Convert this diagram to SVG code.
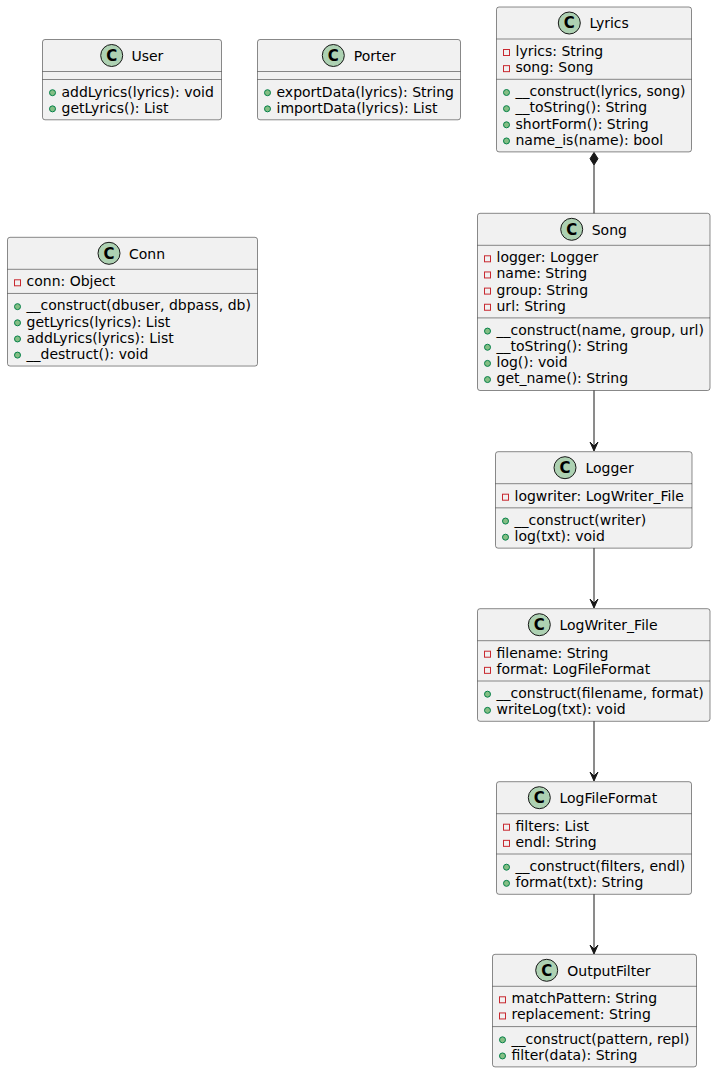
<svg xmlns="http://www.w3.org/2000/svg" width="716" height="1073" viewBox="0 0 716 1073">
<defs>
<style>
.box{fill:#F1F1F1;stroke:#181818;stroke-width:0.5}
.sep{stroke:#181818;stroke-width:0.5}
.ci{fill:#ADD1B2;stroke:#181818;stroke-width:1}
.cl{font-family:"DejaVu Sans",sans-serif;font-size:15px;font-weight:bold;fill:#000;text-anchor:middle}
.nm{font-family:"DejaVu Sans",sans-serif;font-size:14px;fill:#000}
.mb{font-family:"DejaVu Sans",sans-serif;font-size:14px;fill:#000}
.pv{fill:none;stroke:#C82930;stroke-width:1}
.pb{fill:#84BE84;stroke:#038048;stroke-width:1}
.edge{stroke:#181818;stroke-width:1;fill:none}
.head{fill:#181818;stroke:#181818;stroke-width:1}
</style>
</defs>
<rect width="716" height="1073" fill="#FFFFFF"/>

<g id="User">
<rect class="box" x="42.5" y="39.5" width="179" height="80.3" rx="2.5"/>
<circle class="ci" cx="111.7" cy="55.5" r="11"/>
<text class="cl" x="111.7" y="60.8">C</text>
<text class="nm" x="131.4" y="60.8">User</text>
<line class="sep" x1="42.5" y1="71.5" x2="221.5" y2="71.5"/>
<line class="sep" x1="42.5" y1="79.5" x2="221.5" y2="79.5"/>
<circle class="pb" cx="52.5" cy="92.7" r="3"/>
<text class="mb" x="61.5" y="96.5">addLyrics(lyrics): void</text>
<circle class="pb" cx="52.5" cy="108.85" r="3"/>
<text class="mb" x="61.5" y="112.65">getLyrics(): List</text>
</g>

<g id="Porter">
<rect class="box" x="257.5" y="39.5" width="203" height="80.3" rx="2.5"/>
<circle class="ci" cx="333.3" cy="55.5" r="11"/>
<text class="cl" x="333.3" y="60.8">C</text>
<text class="nm" x="353.7" y="60.8">Porter</text>
<line class="sep" x1="257.5" y1="71.5" x2="460.5" y2="71.5"/>
<line class="sep" x1="257.5" y1="79.5" x2="460.5" y2="79.5"/>
<circle class="pb" cx="267.5" cy="92.7" r="3"/>
<text class="mb" x="276.5" y="96.5">exportData(lyrics): String</text>
<circle class="pb" cx="267.5" cy="108.85" r="3"/>
<text class="mb" x="276.5" y="112.65">importData(lyrics): List</text>
</g>

<g id="Lyrics">
<rect class="box" x="496.5" y="7" width="195" height="144.9" rx="2.5"/>
<circle class="ci" cx="569.3" cy="23" r="11"/>
<text class="cl" x="569.3" y="28.3">C</text>
<text class="nm" x="589.4" y="28.3">Lyrics</text>
<line class="sep" x1="496.5" y1="39" x2="691.5" y2="39"/>
<rect class="pv" x="503.5" y="49.5" width="6" height="6"/>
<text class="mb" x="515.5" y="56">lyrics: String</text>
<rect class="pv" x="503.5" y="65.65" width="6" height="6"/>
<text class="mb" x="515.5" y="72.15">song: Song</text>
<line class="sep" x1="496.5" y1="79.3" x2="691.5" y2="79.3"/>
<circle class="pb" cx="506.5" cy="92.5" r="3"/>
<text class="mb" x="515.5" y="96.3">__construct(lyrics, song)</text>
<circle class="pb" cx="506.5" cy="108.65" r="3"/>
<text class="mb" x="515.5" y="112.45">__toString(): String</text>
<circle class="pb" cx="506.5" cy="124.8" r="3"/>
<text class="mb" x="515.5" y="128.6">shortForm(): String</text>
<circle class="pb" cx="506.5" cy="140.95" r="3"/>
<text class="mb" x="515.5" y="144.75">name_is(name): bool</text>
</g>

<g id="Conn">
<rect class="box" x="7.5" y="237.3" width="250" height="128.75" rx="2.5"/>
<circle class="ci" cx="109" cy="253.3" r="11"/>
<text class="cl" x="109" y="258.6">C</text>
<text class="nm" x="129" y="258.6">Conn</text>
<line class="sep" x1="7.5" y1="269.3" x2="257.5" y2="269.3"/>
<rect class="pv" x="14.5" y="279.8" width="6" height="6"/>
<text class="mb" x="26.5" y="286.3">conn: Object</text>
<line class="sep" x1="7.5" y1="293.45" x2="257.5" y2="293.45"/>
<circle class="pb" cx="17.5" cy="306.65" r="3"/>
<text class="mb" x="26.5" y="310.45">__construct(dbuser, dbpass, db)</text>
<circle class="pb" cx="17.5" cy="322.8" r="3"/>
<text class="mb" x="26.5" y="326.6">getLyrics(lyrics): List</text>
<circle class="pb" cx="17.5" cy="338.95" r="3"/>
<text class="mb" x="26.5" y="342.75">addLyrics(lyrics): List</text>
<circle class="pb" cx="17.5" cy="355.1" r="3"/>
<text class="mb" x="26.5" y="358.9">__destruct(): void</text>
</g>

<g id="Song">
<rect class="box" x="477.5" y="213.3" width="232.5" height="177.2" rx="2.5"/>
<circle class="ci" cx="571.7" cy="229.3" r="11"/>
<text class="cl" x="571.7" y="234.6">C</text>
<text class="nm" x="591.7" y="234.6">Song</text>
<line class="sep" x1="477.5" y1="245.3" x2="710" y2="245.3"/>
<rect class="pv" x="484.5" y="255.8" width="6" height="6"/>
<text class="mb" x="496.5" y="262.3">logger: Logger</text>
<rect class="pv" x="484.5" y="271.95" width="6" height="6"/>
<text class="mb" x="496.5" y="278.45">name: String</text>
<rect class="pv" x="484.5" y="288.1" width="6" height="6"/>
<text class="mb" x="496.5" y="294.6">group: String</text>
<rect class="pv" x="484.5" y="304.25" width="6" height="6"/>
<text class="mb" x="496.5" y="310.75">url: String</text>
<line class="sep" x1="477.5" y1="317.9" x2="710" y2="317.9"/>
<circle class="pb" cx="487.5" cy="331.1" r="3"/>
<text class="mb" x="496.5" y="334.9">__construct(name, group, url)</text>
<circle class="pb" cx="487.5" cy="347.25" r="3"/>
<text class="mb" x="496.5" y="351.05">__toString(): String</text>
<circle class="pb" cx="487.5" cy="363.4" r="3"/>
<text class="mb" x="496.5" y="367.2">log(): void</text>
<circle class="pb" cx="487.5" cy="379.55" r="3"/>
<text class="mb" x="496.5" y="383.35">get_name(): String</text>
</g>

<g id="Logger">
<rect class="box" x="495.5" y="451.7" width="196.5" height="96.45" rx="2.5"/>
<circle class="ci" cx="565" cy="467.7" r="11"/>
<text class="cl" x="565" y="473">C</text>
<text class="nm" x="585.4" y="473">Logger</text>
<line class="sep" x1="495.5" y1="483.7" x2="692" y2="483.7"/>
<rect class="pv" x="502.5" y="494.2" width="6" height="6"/>
<text class="mb" x="514.5" y="500.7">logwriter: LogWriter_File</text>
<line class="sep" x1="495.5" y1="507.85" x2="692" y2="507.85"/>
<circle class="pb" cx="505.5" cy="521.05" r="3"/>
<text class="mb" x="514.5" y="524.85">__construct(writer)</text>
<circle class="pb" cx="505.5" cy="537.2" r="3"/>
<text class="mb" x="514.5" y="541">log(txt): void</text>
</g>

<g id="LogWriter_File">
<rect class="box" x="477.5" y="608.7" width="232.5" height="112.6" rx="2.5"/>
<circle class="ci" cx="539.3" cy="624.7" r="11"/>
<text class="cl" x="539.3" y="630">C</text>
<text class="nm" x="559.4" y="630">LogWriter_File</text>
<line class="sep" x1="477.5" y1="640.7" x2="710" y2="640.7"/>
<rect class="pv" x="484.5" y="651.2" width="6" height="6"/>
<text class="mb" x="496.5" y="657.7">filename: String</text>
<rect class="pv" x="484.5" y="667.35" width="6" height="6"/>
<text class="mb" x="496.5" y="673.85">format: LogFileFormat</text>
<line class="sep" x1="477.5" y1="681" x2="710" y2="681"/>
<circle class="pb" cx="487.5" cy="694.2" r="3"/>
<text class="mb" x="496.5" y="698">__construct(filename, format)</text>
<circle class="pb" cx="487.5" cy="710.35" r="3"/>
<text class="mb" x="496.5" y="714.15">writeLog(txt): void</text>
</g>

<g id="LogFileFormat">
<rect class="box" x="496.5" y="781.7" width="195" height="112.6" rx="2.5"/>
<circle class="ci" cx="539.3" cy="797.7" r="11"/>
<text class="cl" x="539.3" y="803">C</text>
<text class="nm" x="559.4" y="803">LogFileFormat</text>
<line class="sep" x1="496.5" y1="813.7" x2="691.5" y2="813.7"/>
<rect class="pv" x="503.5" y="824.2" width="6" height="6"/>
<text class="mb" x="515.5" y="830.7">filters: List</text>
<rect class="pv" x="503.5" y="840.35" width="6" height="6"/>
<text class="mb" x="515.5" y="846.85">endl: String</text>
<line class="sep" x1="496.5" y1="854" x2="691.5" y2="854"/>
<circle class="pb" cx="506.5" cy="867.2" r="3"/>
<text class="mb" x="515.5" y="871">__construct(filters, endl)</text>
<circle class="pb" cx="506.5" cy="883.35" r="3"/>
<text class="mb" x="515.5" y="887.15">format(txt): String</text>
</g>

<g id="OutputFilter">
<rect class="box" x="492.5" y="954.3" width="204" height="112.6" rx="2.5"/>
<circle class="ci" cx="546.7" cy="970.3" r="11"/>
<text class="cl" x="546.7" y="975.6">C</text>
<text class="nm" x="567.3" y="975.6">OutputFilter</text>
<line class="sep" x1="492.5" y1="986.3" x2="696.5" y2="986.3"/>
<rect class="pv" x="499.5" y="996.8" width="6" height="6"/>
<text class="mb" x="511.5" y="1003.3">matchPattern: String</text>
<rect class="pv" x="499.5" y="1012.95" width="6" height="6"/>
<text class="mb" x="511.5" y="1019.45">replacement: String</text>
<line class="sep" x1="492.5" y1="1026.6" x2="696.5" y2="1026.6"/>
<circle class="pb" cx="502.5" cy="1039.8" r="3"/>
<text class="mb" x="511.5" y="1043.6">__construct(pattern, repl)</text>
<circle class="pb" cx="502.5" cy="1055.95" r="3"/>
<text class="mb" x="511.5" y="1059.75">filter(data): String</text>
</g>

<g id="connectors">
<line class="edge" x1="594" y1="165" x2="594" y2="213.3"/>
<polygon class="head" points="594,152.5 598,158.7 594,165 590,158.7"/>
<line class="edge" x1="594" y1="390.5" x2="594" y2="450"/>
<polygon class="head" points="594,451 598,442 594,446 590,442"/>
<line class="edge" x1="594" y1="548.15" x2="594" y2="607"/>
<polygon class="head" points="594,608 598,599 594,603 590,599"/>
<line class="edge" x1="594" y1="721.3" x2="594" y2="780"/>
<polygon class="head" points="594,781 598,772 594,776 590,772"/>
<line class="edge" x1="594" y1="894.3" x2="594" y2="953"/>
<polygon class="head" points="594,954 598,945 594,949 590,945"/>
</g>
</svg>
